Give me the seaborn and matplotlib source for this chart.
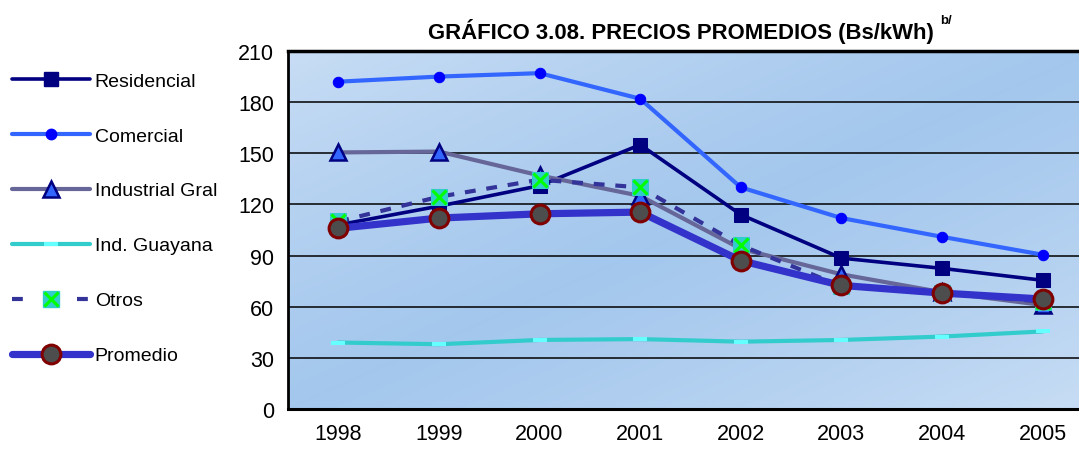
import matplotlib
matplotlib.use("Agg")
import matplotlib.pyplot as plt
import seaborn as sns
import numpy as np
import pandas as pd
from matplotlib.lines import Line2D
from matplotlib.legend_handler import HandlerTuple

years = ["1998", "1999", "2000", "2001", "2002", "2003", "2004", "2005"]
residencial = [108, 119, 131, 155, 114, 88.5, 82.5, 75.5]
comercial = [192, 195, 197, 182, 130, 112, 101, 90.5]
industrial = [150.5, 151, 137, 125, 94, 79, 68.5, 61]
guayana = [39, 38, 40.5, 41, 39.5, 40.5, 42.5, 45.5]
otros = [110, 124.5, 134.5, 130, 96, 72, 68, 63]
promedio = [106, 112, 114.5, 115.5, 87, 72.5, 68, 64.5]
series_names = ["Residencial", "Comercial", "Industrial Gral", "Ind. Guayana", "Otros", "Promedio"]
yticks = [0, 30, 60, 90, 120, 150, 180, 210]

sns.set_style("white")
plt.rcParams['font.family'] = ['Liberation Sans', 'DejaVu Sans']
plt.rcParams['text.color'] = 'black'
plt.rcParams['xtick.color'] = 'black'
plt.rcParams['ytick.color'] = 'black'
plt.rcParams['axes.labelcolor'] = 'black'

df = pd.DataFrame({"year": years, "idx": range(len(years)),
                   "Residencial": residencial, "Comercial": comercial,
                   "Industrial Gral": industrial, "Ind. Guayana": guayana,
                   "Otros": otros, "Promedio": promedio})

fig = plt.figure(figsize=(10.79, 4.52), dpi=100)
ax = fig.add_axes([288/1079, 42/452, (1093-288)/1079, 358/452])

# gradient background: light at top-left and bottom-right, darker across the middle
nx, ny = 300, 150
xx, yy = np.meshgrid(np.linspace(0, 1, nx), np.linspace(0, 1, ny))
t = (xx * 0.5 + yy * 0.5)
d = np.clip(1 - np.abs(t - 0.5) / 0.5, 0, 1) ** 0.8
c_light = np.array([0.79, 0.87, 0.96])
c_dark = np.array([0.64, 0.78, 0.93])
img = c_light[None, None, :] * (1 - d[..., None]) + c_dark[None, None, :] * d[..., None]
ax.imshow(img, extent=[-0.5, 7.5, 0, 210], aspect='auto', origin='upper', zorder=0)

marker_rect = [(-1, -0.35), (1, -0.35), (1, 0.35), (-1, 0.35), (-1, -0.35)]

sns.lineplot(data=df, x="idx", y="Residencial", ax=ax, color="#000080", lw=2.6,
             marker="s", markersize=10.5, markerfacecolor="#000080", markeredgecolor="#000080", zorder=3)
sns.lineplot(data=df, x="idx", y="Comercial", ax=ax, color="#3366ff", lw=3,
             marker="o", markersize=7.5, markerfacecolor="#0000ff", markeredgecolor="#0000ff", zorder=3)
sns.lineplot(data=df, x="idx", y="Industrial Gral", ax=ax, color="#666699", lw=3,
             marker="^", markersize=11, markerfacecolor="#3366ff", markeredgecolor="#000080",
             markeredgewidth=1.8, zorder=3)
sns.lineplot(data=df, x="idx", y="Ind. Guayana", ax=ax, color="#33cccc", lw=3,
             marker=marker_rect, markersize=10, markerfacecolor="#66ffff", markeredgecolor="#66ffff",
             markeredgewidth=0, zorder=3)
sns.lineplot(data=df, x="idx", y="Otros", ax=ax, color="#333399", lw=3,
             linestyle=(0, (2.6, 2.6)), marker="s", markersize=11,
             markerfacecolor="#33cccc", markeredgecolor="#33cccc", zorder=4)
sns.lineplot(data=df, x="idx", y="Otros", ax=ax, color="#333399", lw=0,
             marker="x", markersize=10, markeredgecolor="#00ff00", markeredgewidth=2.2, zorder=4)
sns.lineplot(data=df, x="idx", y="Promedio", ax=ax, color="#3333cc", lw=5.2,
             marker="o", markersize=13.5, markerfacecolor="#4d4d4d", markeredgecolor="#800000",
             markeredgewidth=2.2, zorder=5)

ax.set_xlim(-0.5, 7.5)
ax.set_ylim(0, 210)
ax.set_yticks(yticks)
ax.set_yticklabels([str(v) for v in yticks], fontsize=15.5, color='black')
ax.set_xticks(np.arange(-0.5, 8.0, 1.0))
ax.set_xticklabels([])
ax.set_xticks(range(len(years)), minor=True)
ax.set_xticklabels(years, minor=True, fontsize=15.5, color='black')
ax.tick_params(axis='x', which='minor', length=0, pad=10)
ax.tick_params(axis='x', which='major', length=6, width=1.2, direction='out', color='black')
ax.tick_params(axis='y', length=6, width=1.2, direction='out', color='black', pad=4)
ax.set_xlabel("")
ax.set_ylabel("")
ax.grid(axis='y', color='black', lw=1.1)
for gl in ax.get_ygridlines():
    gl.set_zorder(1)
for s in ["left", "bottom", "top"]:
    ax.spines[s].set_visible(True)
    ax.spines[s].set_color("black")
ax.spines["left"].set_linewidth(2.0)
ax.spines["bottom"].set_linewidth(2.2)
ax.spines["top"].set_linewidth(2.5)
ax.spines["right"].set_visible(False)
if ax.get_legend():
    ax.get_legend().remove()

# title
narrow = ['Liberation Sans Narrow', 'Liberation Sans']
title = fig.text(428/1079, 1 - 31/452, "GRÁFICO 3.08. PRECIOS PROMEDIOS (Bs/kWh)", ha='left', va='center',
                 fontsize=15.5, fontweight='bold', family=narrow, color='black')
fig.canvas.draw()
bb = title.get_window_extent(renderer=fig.canvas.get_renderer())
if bb.x1 < 925:
    fs = 15.5 * (932 - 428) / (bb.x1 - bb.x0)
    title.set_fontsize(min(fs, 17))
    fig.canvas.draw()
    bb = title.get_window_extent(renderer=fig.canvas.get_renderer())
fig.text((bb.x1 + 6) / 1079, 1 - 21/452, "b/", ha='left', va='center', fontsize=9.5, fontweight='bold',
         family=narrow, color='black')

# legend
h_res = Line2D([], [], color="#000080", lw=2.6, marker="s", markersize=10.5)
h_com = Line2D([], [], color="#3366ff", lw=3, marker="o", markersize=7.5, markerfacecolor="#0000ff", markeredgecolor="#0000ff")
h_ind = Line2D([], [], color="#666699", lw=3, marker="^", markersize=11, markerfacecolor="#3366ff",
               markeredgecolor="#000080", markeredgewidth=1.8)
h_gua = Line2D([], [], color="#33cccc", lw=3, marker=marker_rect, markersize=10, markerfacecolor="#66ffff",
               markeredgewidth=0)
h_otr1 = Line2D([], [], color="#333399", lw=3, linestyle=(0, (2.6, 5.2)), marker="s", markersize=11,
                markerfacecolor="#33cccc", markeredgecolor="#33cccc")
h_otr2 = Line2D([], [], lw=0, marker="x", markersize=10, markeredgecolor="#00ff00", markeredgewidth=2.2)
h_pro = Line2D([], [], color="#3333cc", lw=5.2, marker="o", markersize=13.5, markerfacecolor="#4d4d4d",
               markeredgecolor="#800000", markeredgewidth=2.2)
leg = fig.legend([h_res, h_com, h_ind, h_gua, (h_otr1, h_otr2), h_pro], series_names,
                 handler_map={tuple: HandlerTuple(ndivide=1)},
                 loc='upper left', bbox_to_anchor=(12/1079, 1 - 73/452), frameon=False,
                 fontsize=14, handlelength=4.0, handletextpad=0.25, labelspacing=1.92,
                 borderaxespad=0, borderpad=0.0)
for txt in leg.get_texts():
    txt.set_color('black')

fig.savefig("out.png", dpi=100)
